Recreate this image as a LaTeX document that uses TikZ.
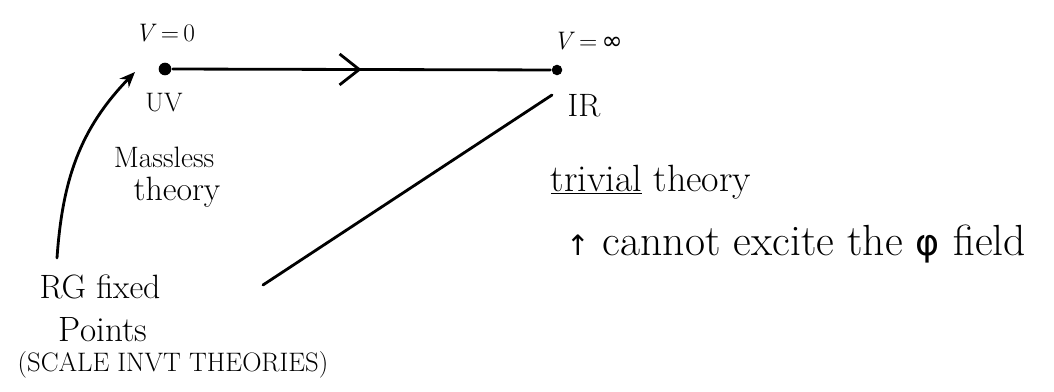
\documentclass[tikz,border=0pt]{standalone}
\usepackage{fontspec}
\newfontfamily\symfont{DejaVu Sans}
\usetikzlibrary{arrows.meta,decorations.markings}
\newcommand{\fs}[1]{\fontsize{#1}{#1}\selectfont}
\begin{document}
\begin{tikzpicture}
  [x=0.025cm,y=-0.025cm,line width=2pt,line cap=round,
   dot/.style={circle,fill=black,inner sep=0pt,minimum size=9pt},
   lbl/.style={inner sep=0pt},
   flow/.style={postaction={decorate},decoration={markings,
     mark=at position .5 with {\arrow[line width=2pt]{Straight Barb[length=14pt,width=22pt]}}}}]
  \useasboundingbox (0,0) rectangle (1054,392);

  % fixed points
  \node (uv) [dot] at (165,69) {};
  \node (ir) [dot,minimum size=7.5pt] at (557,70) {};

  % labels
  \node (v0)   [lbl,font=\fs{18}] at (165,33)  {\textit{V}\,=\,0};
  \node (vinf) [lbl,font=\fs{18}] at (588,41)  {\textit{V}\,=\,{\symfont ∞}};
  \node (uvl)  [lbl,font=\fs{19}] at (164,103) {UV};
  \node (irl)  [lbl,font=\fs{23}] at (584,106) {IR};
  \node (mass) [lbl,font=\fs{21}] at (164,157) {Massless};
  \node (thy)  [lbl,font=\fs{24}] at (177,192) {theory};
  \node (rg)   [lbl,font=\fs{24}] at (100,287) {RG fixed};
  \node (pts)  [lbl,font=\fs{25}] at (103,330) {Points};
  \node (sc)   [lbl,font=\fs{19}] at (173,365) {(SCALE INVT THEORIES)};
  \node (triv) [lbl,font=\fs{27}] at (651,182) {\underline{trivial} theory};
  \node (exc)  [lbl,font=\fs{31}] at (796,244) {{\symfont\fs{20}↑} cannot excite the {\symfont\fs{26}φ} field};

  \coordinate (rgend) at (57,258);
  \coordinate (uvend) at (135,72);
  \coordinate (irend) at (552,95);
  \coordinate (ptsend) at (263,285);

  \draw[flow] (uv) -- (ir);
  \draw[-{Stealth[length=11pt,width=9pt]}] (rgend) to[out=86,in=226] (uvend);
  \draw (ptsend) -- (irend);

\end{tikzpicture}
\end{document}
